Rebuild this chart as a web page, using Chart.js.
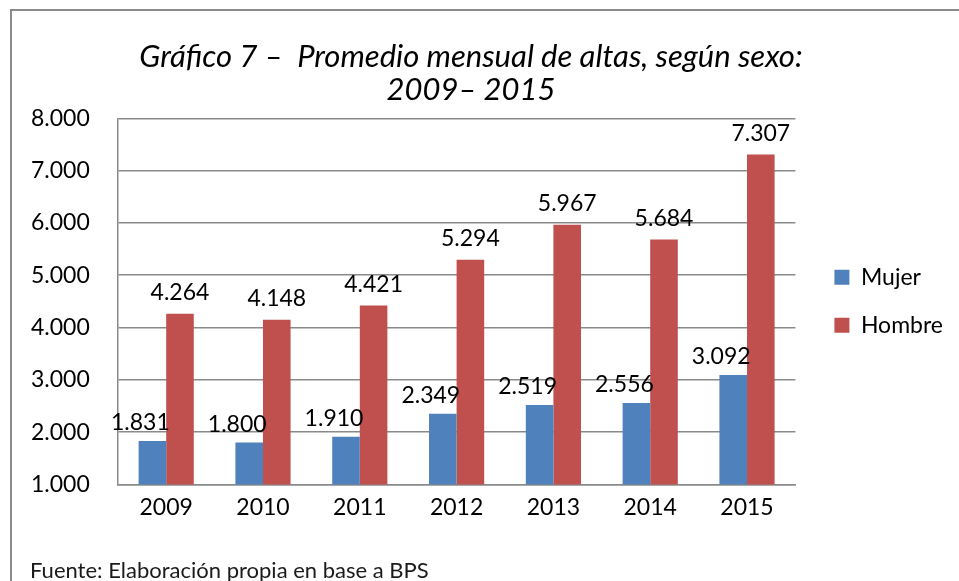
<!DOCTYPE html>
<html>
<head>
<meta charset="utf-8">
<script src="https://cdn.jsdelivr.net/npm/chart.js@4.4.1/dist/chart.umd.min.js"></script>
<style>
html, body { margin: 0; overflow: hidden; background: #fff; }
#frame { position: absolute; left: 10px; top: 9px; width: 990px; height: 640px; border: 2px solid #8a8a8a; }
#wrap { position: absolute; left: 0; top: 0; width: 959px; height: 581px; }
#fuente { position: absolute; left: 30px; top: 556px; font: 22px Lato; color: #1a1a1a; }
</style>
</head>
<body>
<div id="frame"></div>
<div id="wrap"><canvas id="chart" width="959" height="581"></canvas></div>
<div id="fuente">Fuente: Elaboración propia en base a BPS</div>
<script>
const years = ['2009', '2010', '2011', '2012', '2013', '2014', '2015']
const mujer = [1831, 1800, 1910, 2349, 2519, 2556, 3092]
const hombre = [4264, 4148, 4421, 5294, 5967, 5684, 7307]
const yMin = 1000
const yMax = 8000
const yStep = 1000

function fmt(v) {
    return String(v).replace(/\B(?=(\d{3})+(?!\d))/g, '.')
}

// value labels over the bars
const barLabels = {
    id: 'barLabels',
    afterDatasetsDraw(chart) {
        const ctx = chart.ctx
        ctx.save()
        ctx.font = '23px Lato'
        ctx.textAlign = 'center'
        ctx.textBaseline = 'middle'
        ctx.fillStyle = '#000'
        chart.data.datasets.forEach((ds, i) => {
            const meta = chart.getDatasetMeta(i)
            const dx = i === 0 ? -12 : 0
            const dy = i === 0 ? 18 : 21
            meta.data.forEach((bar, j) => {
                ctx.fillText(fmt(ds.data[j]), bar.x + dx, bar.y - dy)
            })
        })
        ctx.restore()
    }
}

// push the legend a bit away from the plot
const legendShift = {
    id: 'legendShift',
    afterLayout(chart) {
        chart.legend.left += 14
        chart.legend.right += 14
    }
}

Chart.defaults.font.family = 'Lato'
Chart.defaults.color = '#000'

new Chart(document.getElementById('chart'), {
    type: 'bar',
    data: {
        labels: years,
        datasets: [
            { label: 'Mujer', data: mujer, backgroundColor: '#4f81bd', categoryPercentage: 0.57, barPercentage: 1.0 },
            { label: 'Hombre', data: hombre, backgroundColor: '#c0504d', categoryPercentage: 0.57, barPercentage: 1.0 }
        ]
    },
    options: {
        responsive: false,
        animation: false,
        layout: { padding: { left: 3, right: 20, top: 0, bottom: 51 } },
        plugins: {
            title: {
                display: true,
                text: ['Gráfico 7 –  Promedio mensual de altas, según sexo:', '2009– 2015'],
                font: { size: 31, style: 'italic', weight: 'normal', lineHeight: 1.07 },
                color: '#000',
                padding: { top: 40, bottom: 12 }
            },
            legend: {
                position: 'right',
                fullSize: false,
                labels: { boxWidth: 15, boxHeight: 15, padding: 25, font: { size: 23 } }
            },
            tooltip: { enabled: false }
        },
        scales: {
            x: {
                grid: { display: false, drawTicks: false },
                border: { display: true, color: '#8a8a8a', width: 1.5 },
                ticks: { padding: 9, font: { size: 23 } }
            },
            y: {
                min: yMin,
                max: yMax,
                ticks: { stepSize: yStep, padding: 28, font: { size: 23 }, callback: v => fmt(v) },
                grid: { color: '#8a8a8a', lineWidth: 1.5, drawTicks: false },
                border: { display: true, color: '#8a8a8a', width: 1.5 }
            }
        }
    },
    plugins: [barLabels, legendShift]
})
</script>
</body>
</html>
